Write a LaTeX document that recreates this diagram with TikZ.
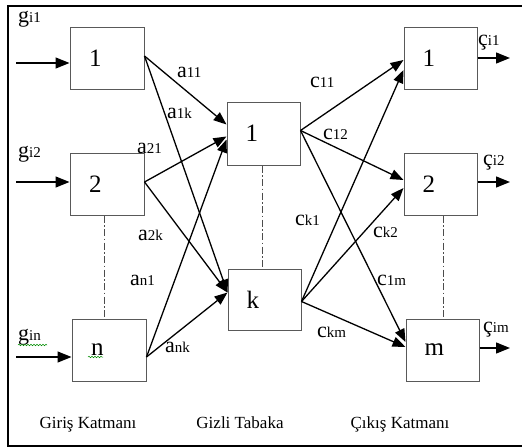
\documentclass[tikz,border=0pt]{standalone}
\usepackage{fontspec}
\setmainfont{Liberation Serif}
\usetikzlibrary{arrows.meta,calc,decorations.pathmorphing}

% weight label: large letter followed by a smaller index
\newcommand{\wlab}[2]{{\fontsize{22}{24}\selectfont #1}{\fontsize{15}{16}\selectfont #2}}

\begin{document}
\begin{tikzpicture}[x=1pt,y=-1pt,
  unit/.style={draw=black!65, line width=1pt, minimum width=74pt, minimum height=62pt,
    inner sep=0pt, text width=36pt, align=left, font=\fontsize{25}{27}\selectfont},
  link/.style={line width=1.3pt, -{Triangle[length=13pt,width=10pt]}},
  feed/.style={line width=1.3pt, -{Triangle[length=14pt,width=11pt]}},
  guide/.style={line width=1pt, draw=black!70, dash pattern=on 7pt off 2.5pt on 1.5pt off 2.5pt},
  wlabel/.style={anchor=base west, inner sep=0pt},
  caption/.style={anchor=base, inner sep=0pt, font=\fontsize{17}{19}\selectfont},
  squiggle/.style={draw=green!55!black, line width=0.5pt, decorate,
    decoration={snake, amplitude=0.8pt, segment length=3pt}}
]
\useasboundingbox (0,0) rectangle (522,447);

% outer frame
\draw[line width=2pt] (522,6) -- (8,6) -- (8,446) -- (522,446);

% input layer
\node[unit] (in1) at (107,58) {1};
\node[unit] (in2) at (107,184) {2};
\node[unit] (inn) at (109,350) {n};

% hidden layer
\node[unit, minimum width=73pt, minimum height=63pt] (h1) at (263.5,133.5) {1};
\node[unit, minimum width=73pt, minimum height=61pt] (hk) at (264.5,299.5) {k};

% output layer
\node[unit, minimum width=73pt] (out1) at (440.5,58) {1};
\node[unit, minimum width=73pt] (out2) at (440.5,184) {2};
\node[unit, minimum width=73pt] (outm) at (442.5,350) {m};

% dash-dot continuation marks
\draw[guide] ($(in2.south)+(-3,0)$) -- ($(inn.north)+(-5,0)$);
\draw[guide] ($(h1.south)+(-1.5,0)$) -- ($(hk.north)+(-2.5,0)$);
\draw[guide] ($(out2.south)+(2.5,0)$) -- ($(outm.north)+(0.5,0)$);

% inputs
\coordinate (g1) at (16,63);
\coordinate (g2) at (16,182);
\coordinate (gn) at (16,357);
\draw[feed] (g1) -- (g1 -| in1.west);
\draw[feed] (g2) -- (g2 -| in2.west);
\draw[feed] (gn) -- (gn -| inn.west);

% outputs
\coordinate (q1) at (510,58);
\coordinate (q2) at (510,182);
\coordinate (qm) at (510,348);
\draw[feed] (out1.east |- q1) -- (q1);
\draw[feed] (out2.east |- q2) -- (q2);
\draw[feed] (outm.east |- qm) -- (qm);

% input -> hidden weights
\draw[link] ($(in1.east)+(0,-2)$) -- ($(h1.west)+(0,-9)$);
\draw[link] ($(in1.east)+(0,-2)$) -- ($(hk.west)+(0,-7)$);
\draw[link] ($(in2.east)+(0,-2)$) -- ($(h1.west)+(0,3)$);
\draw[link] ($(in2.east)+(0,-2)$) -- ($(hk.west)+(0,-7)$);
\draw[link] ($(inn.east)+(0,7)$) -- ($(h1.west)+(0,6)$);
\draw[link] ($(inn.east)+(0,7)$) -- ($(hk.west)+(0,-7)$);

% hidden -> output weights
\draw[link] ($(h1.east)+(0,-3)$) -- ($(out1.west)+(0,2)$);
\draw[link] ($(h1.east)+(0,-3)$) -- ($(out2.west)+(0,-4)$);
\draw[link] ($(h1.east)+(0,-3)$) -- ($(outm.west)+(0,-8)$);
\draw[link] ($(hk.east)+(0,2)$) -- ($(out1.west)+(0,12)$);
\draw[link] ($(hk.east)+(0,2)$) -- ($(out2.west)+(0,4)$);
\draw[link] ($(hk.east)+(0,2)$) -- ($(outm.west)+(0,-3)$);

% input / output names
\node[wlabel] (lg1) at (18,22) {\wlab{g}{i1}};
\node[wlabel] (lg2) at (18,157) {\wlab{g}{i2}};
\node[wlabel] (lgn) at (18,340) {\wlab{g}{in}};
\node[wlabel] (lq1) at (478,45) {\wlab{ç}{i1}};
\node[wlabel] (lq2) at (483,165) {\wlab{ç}{i2}};
\node[wlabel] (lqm) at (483,332) {\wlab{ç}{im}};

% weight names
\node[wlabel] at (177,77) {\wlab{a}{11}};
\node[wlabel] at (167,118) {\wlab{a}{1k}};
\node[wlabel] at (137,153) {\wlab{a}{21}};
\node[wlabel] at (138,240) {\wlab{a}{2k}};
\node[wlabel] at (130,285) {\wlab{a}{n1}};
\node[wlabel] at (165,352) {\wlab{a}{nk}};
\node[wlabel] at (310,87) {\wlab{c}{11}};
\node[wlabel] at (323,139) {\wlab{c}{12}};
\node[wlabel] at (295,225) {\wlab{c}{k1}};
\node[wlabel] at (373,237) {\wlab{c}{k2}};
\node[wlabel] at (377,285) {\wlab{c}{1m}};
\node[wlabel] at (317,337) {\wlab{c}{km}};

% spelling marks
\draw[squiggle] (18,345) -- (47,345);
\draw[squiggle] (88,357) -- (103,357);

% layer captions
\node[caption] (c1) at (88,428) {Giriş Katmanı};
\node[caption] (c2) at (240,428) {Gizli Tabaka};
\node[caption] (c3) at (400,428) {Çıkış Katmanı};
\end{tikzpicture}
\end{document}
